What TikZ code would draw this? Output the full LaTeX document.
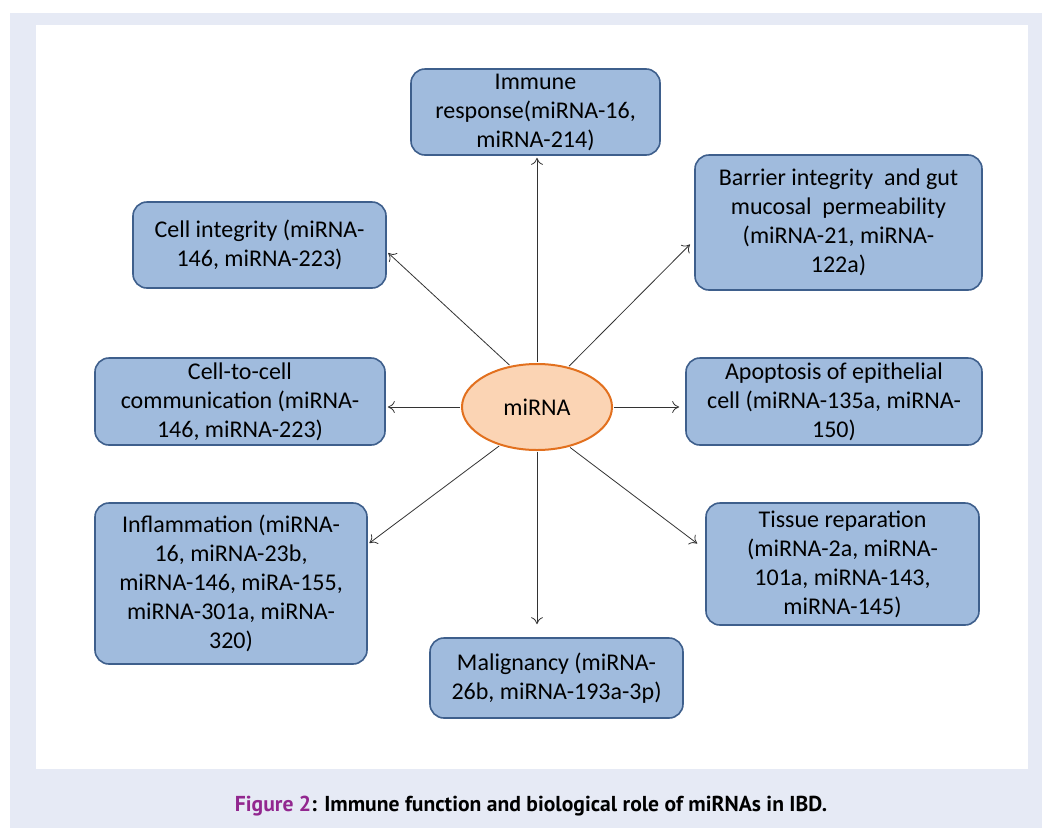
\documentclass[tikz,border=0pt]{standalone}
\usepackage{fontspec}
\setmainfont{Carlito}
\newfontfamily\capfont{PT Sans}
\usetikzlibrary{arrows.meta,shapes,positioning,calc}
\definecolor{pagebg}{RGB}{230,234,245}
\definecolor{boxfill}{RGB}{160,187,221}
\definecolor{boxdraw}{RGB}{62,95,140}
\definecolor{ellfill}{RGB}{251,212,180}
\definecolor{elldraw}{RGB}{226,112,30}
\definecolor{figpurple}{RGB}{146,39,143}

\begin{document}
\begin{tikzpicture}
[x=1pt,y=-1pt,
role/.style={draw=boxdraw,fill=boxfill,line width=1.6pt,rounded corners=14pt,align=center,inner sep=0pt,font=\fontsize{24}{29}\selectfont},
hub/.style={ellipse,draw=elldraw,fill=ellfill,line width=2pt,minimum width=150pt,minimum height=86pt,font=\fontsize{24}{29}\selectfont},
link/.style={-{To[length=7pt,width=12pt]},draw=black!80,line width=0.8pt,shorten <=1pt}]

% frame
\useasboundingbox (0,0) rectangle (1042,828);
\fill[pagebg] (10,13) rectangle (1042,828);
\fill[white] (36,25) rectangle (1028,769);

% centre
\node[hub] (mirna) at (537,407) {miRNA};

% roles
\node[role,minimum width=249pt,minimum height=86pt] (immune) at (535.5,112) {Immune\\response(miRNA-16,\\miRNA-214)};
\node[role,minimum width=287pt,minimum height=135pt] (barrier) at (838.5,222.5) {Barrier integrity~ and gut\\mucosal~ permeability\\(miRNA-21, miRNA-\\122a)};
\node[role,minimum width=253pt,minimum height=86pt] (cellint) at (259.5,245) {Cell integrity (miRNA-\\146, miRNA-223)};
\node[role,minimum width=290pt,minimum height=87pt] (cellcom) at (240,401.5) {Cell-to-cell\\communication (miRNA-\\146, miRNA-223)};
\node[role,minimum width=296pt,minimum height=87pt] (apopt) at (834,401.5) {Apoptosis of epithelial\\cell (miRNA-135a, miRNA-\\150)};
\node[role,minimum width=273pt,minimum height=122pt] (tissue) at (842.5,564) {Tissue reparation\\(miRNA-2a, miRNA-\\101a, miRNA-143,\\miRNA-145)};
\node[role,minimum width=272pt,minimum height=161pt] (inflam) at (231,583.5) {Inflammation (miRNA-\\16, miRNA-23b,\\miRNA-146, miRA-155,\\miRNA-301a, miRNA-\\320)};
\node[role,minimum width=253pt,minimum height=80pt] (malig) at (556.5,678) {Malignancy (miRNA-\\26b, miRNA-193a-3p)};

% arrows out of the centre
\foreach \from/\to/\gap in {123/cellint.357/2, 52/barrier.187/6, 226/inflam.16/2, 309/tissue.174/10}
\draw[link,shorten >=\gap pt] (mirna.\from) -- (\to);
\draw[link,shorten >=2pt] (mirna.north) -- (mirna.north |- immune.south);
\draw[link,shorten >=13pt] (mirna.south) -- (mirna.south |- malig.north);
\draw[link,shorten >=2pt] (mirna.west) -- (mirna.west -| cellcom.east);
\draw[link,shorten >=6pt] (mirna.east) -- (mirna.east -| apopt.west);

% caption
\node (caption) at (531,806) {\capfont\bfseries\fontsize{21.6}{24}\selectfont\textcolor{figpurple}{Figure 2}: Immune function and biological role of miRNAs in IBD.};
\end{tikzpicture}
\end{document}
